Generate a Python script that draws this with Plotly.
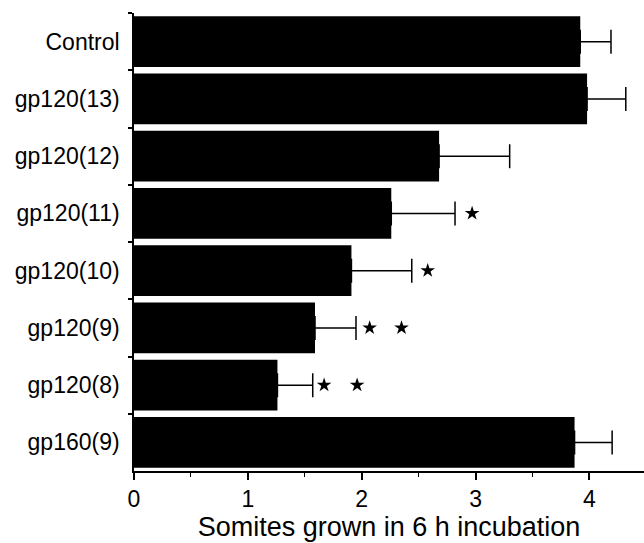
import plotly.graph_objects as go

categories = ["Control", "gp120(13)", "gp120(12)", "gp120(11)", "gp120(10)",
              "gp120(9)", "gp120(8)", "gp160(9)"]
means = [3.92, 3.98, 2.68, 2.26, 1.91, 1.59, 1.26, 3.87]
err_plus = [0.27, 0.34, 0.62, 0.56, 0.53, 0.36, 0.31, 0.33]

star_cats = ["gp120(11)", "gp120(10)", "gp120(9)", "gp120(9)", "gp120(8)", "gp120(8)"]
star_x = [2.97, 2.58, 2.07, 2.35, 1.67, 1.96]

x_title = "Somites grown in 6 h incubation"
x_ticks = [0, 1, 2, 3, 4]

FONT = "Liberation Sans, Arial, sans-serif"

fig = go.Figure()
fig.add_trace(go.Bar(
    y=categories, x=means, orientation="h",
    marker=dict(color="black", line=dict(width=0)),
    error_x=dict(type="data", symmetric=False, array=err_plus,
                 arrayminus=[0] * len(means), color="black",
                 thickness=1.5, width=12),
    showlegend=False,
))
fig.add_trace(go.Scatter(
    y=star_cats, x=star_x, mode="markers",
    marker=dict(symbol="star", size=11, color="black"),
    showlegend=False,
))

fig.update_layout(
    width=644, height=543,
    margin=dict(l=134, r=0, t=13, b=72),
    paper_bgcolor="white", plot_bgcolor="white",
    bargap=0.11,
    font=dict(family=FONT, color="black"),
)
fig.update_xaxes(
    range=[0, 4.48], tickvals=x_ticks, ticktext=[str(v) for v in x_ticks],
    automargin=False,
    showgrid=False, zeroline=False,
    showline=True, linecolor="black", linewidth=1.5,
    ticks="outside", ticklen=7, tickwidth=1.5, tickcolor="black",
    minor=dict(dtick=0.5, tick0=0, ticks="outside", ticklen=4, tickwidth=1, tickcolor="black"),
    tickfont=dict(size=23, family=FONT),
    title=dict(text=x_title, font=dict(size=27, family=FONT), standoff=0),
)
fig.update_yaxes(
    categoryorder="array", categoryarray=categories, autorange="reversed",
    automargin=False,
    showgrid=False, zeroline=False,
    showline=True, linecolor="black", linewidth=1.5,
    ticks="outside", tickson="boundaries", ticklen=4, tickwidth=1.5, tickcolor="black",
    tickfont=dict(size=23, family=FONT),
    ticklabelstandoff=8,
)

fig.write_html(
    "out.html",
    config={"displayModeBar": False},
    post_script="document.body.style.margin='0';document.body.style.padding='0';",
)
